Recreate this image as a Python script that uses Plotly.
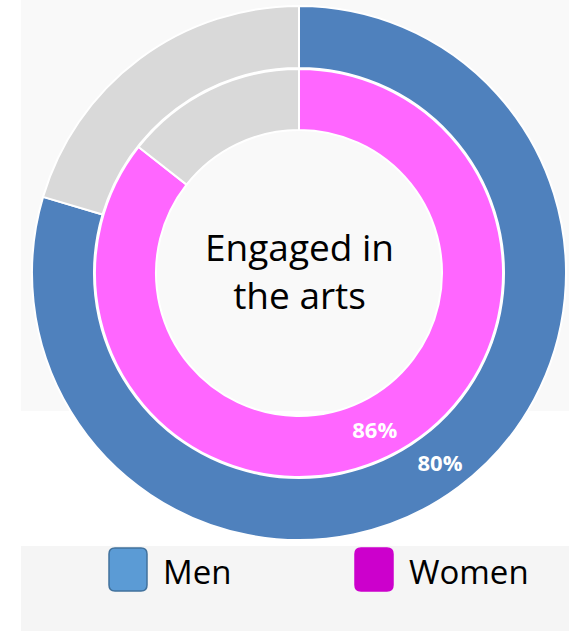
import plotly.graph_objects as go

W, H = 569, 631

outer_labels = ["Men", "Not engaged (men)"]
outer_values = [79.6, 20.4]

inner_labels = ["Women", "Not engaged (women)"]
inner_values = [85.6, 14.4]

legend_names = ["Men", "Women"]
legend_colors = ["#5B9BD5", "#CC00CC"]
legend_borders = ["#41719C", "#CC00CC"]

center_title = "Engaged in<br>the arts"

outer_text = [f"<b>{round(outer_values[0])}%</b>", ""]
inner_text = [f"<b>{round(inner_values[0])}%</b>", ""]


def px_x(v):
    return v / W


def px_y(v):
    return 1 - v / H


cx, cy = 299, 273
r_out, r_in = 267, 204

fig = go.Figure()
fig.add_trace(go.Pie(
    labels=outer_labels, values=outer_values, text=outer_text,
    textinfo="text", textposition="inside", insidetextorientation="horizontal",
    textfont=dict(color="white", size=22, family="Open Sans"),
    hole=205 / 267, sort=False, direction="clockwise", rotation=0,
    marker=dict(colors=["#4F81BD", "#D9D9D9"], line=dict(color="white", width=2)),
    domain=dict(x=[px_x(cx - r_out), px_x(cx + r_out)], y=[px_y(cy + r_out), px_y(cy - r_out)]),
    showlegend=False, hoverinfo="label+percent",
))
fig.add_trace(go.Pie(
    labels=inner_labels, values=inner_values, text=inner_text,
    textinfo="text", textposition="inside", insidetextorientation="horizontal",
    textfont=dict(color="white", size=22, family="Open Sans"),
    hole=143 / 204, sort=False, direction="clockwise", rotation=0,
    marker=dict(colors=["#FF66FF", "#D9D9D9"], line=dict(color="white", width=2)),
    domain=dict(x=[px_x(cx - r_in), px_x(cx + r_in)], y=[px_y(cy + r_in), px_y(cy - r_in)]),
    showlegend=False, hoverinfo="label+percent",
))

shapes = [
    dict(type="rect", xref="paper", yref="paper", x0=px_x(21), x1=1, y0=px_y(411), y1=1,
         fillcolor="#F9F9F9", line=dict(width=0), layer="below"),
    dict(type="rect", xref="paper", yref="paper", x0=px_x(21), x1=1, y0=0, y1=px_y(546),
         fillcolor="#F5F5F5", line=dict(width=0), layer="below"),
]
annotations = [
    dict(text=center_title, x=px_x(cx), y=px_y(cy - 3), xref="paper", yref="paper",
         showarrow=False, font=dict(size=37, color="black", family="Open Sans"),
         xanchor="center", yanchor="middle"),
]

# legend drawn as rounded boxes + text
box_x = [109, 355]
for i, name in enumerate(legend_names):
    x0, x1 = box_x[i], box_x[i] + 38
    y0, y1 = 548, 591
    rr = 6
    path = (f"M {px_x(x0+rr)} {px_y(y0)} L {px_x(x1-rr)} {px_y(y0)} "
            f"Q {px_x(x1)} {px_y(y0)} {px_x(x1)} {px_y(y0+rr)} "
            f"L {px_x(x1)} {px_y(y1-rr)} Q {px_x(x1)} {px_y(y1)} {px_x(x1-rr)} {px_y(y1)} "
            f"L {px_x(x0+rr)} {px_y(y1)} Q {px_x(x0)} {px_y(y1)} {px_x(x0)} {px_y(y1-rr)} "
            f"L {px_x(x0)} {px_y(y0+rr)} Q {px_x(x0)} {px_y(y0)} {px_x(x0+rr)} {px_y(y0)} Z")
    shapes.append(dict(type="path", xref="paper", yref="paper", path=path,
                       fillcolor=legend_colors[i], line=dict(color=legend_borders[i], width=1.5)))
    annotations.append(dict(text=name, x=px_x(x1 + 14), y=px_y(571), xref="paper", yref="paper",
                            showarrow=False, xanchor="left", yanchor="middle",
                            font=dict(size=33, color="black", family="Open Sans")))

fig.update_layout(
    width=W, height=H, margin=dict(l=0, r=0, t=0, b=0),
    paper_bgcolor="white", plot_bgcolor="white",
    shapes=shapes, annotations=annotations,
)

fig.write_html(
    "out.html",
    config={"displayModeBar": False},
    post_script="document.body.style.margin='0';document.body.style.overflow='hidden';",
)
